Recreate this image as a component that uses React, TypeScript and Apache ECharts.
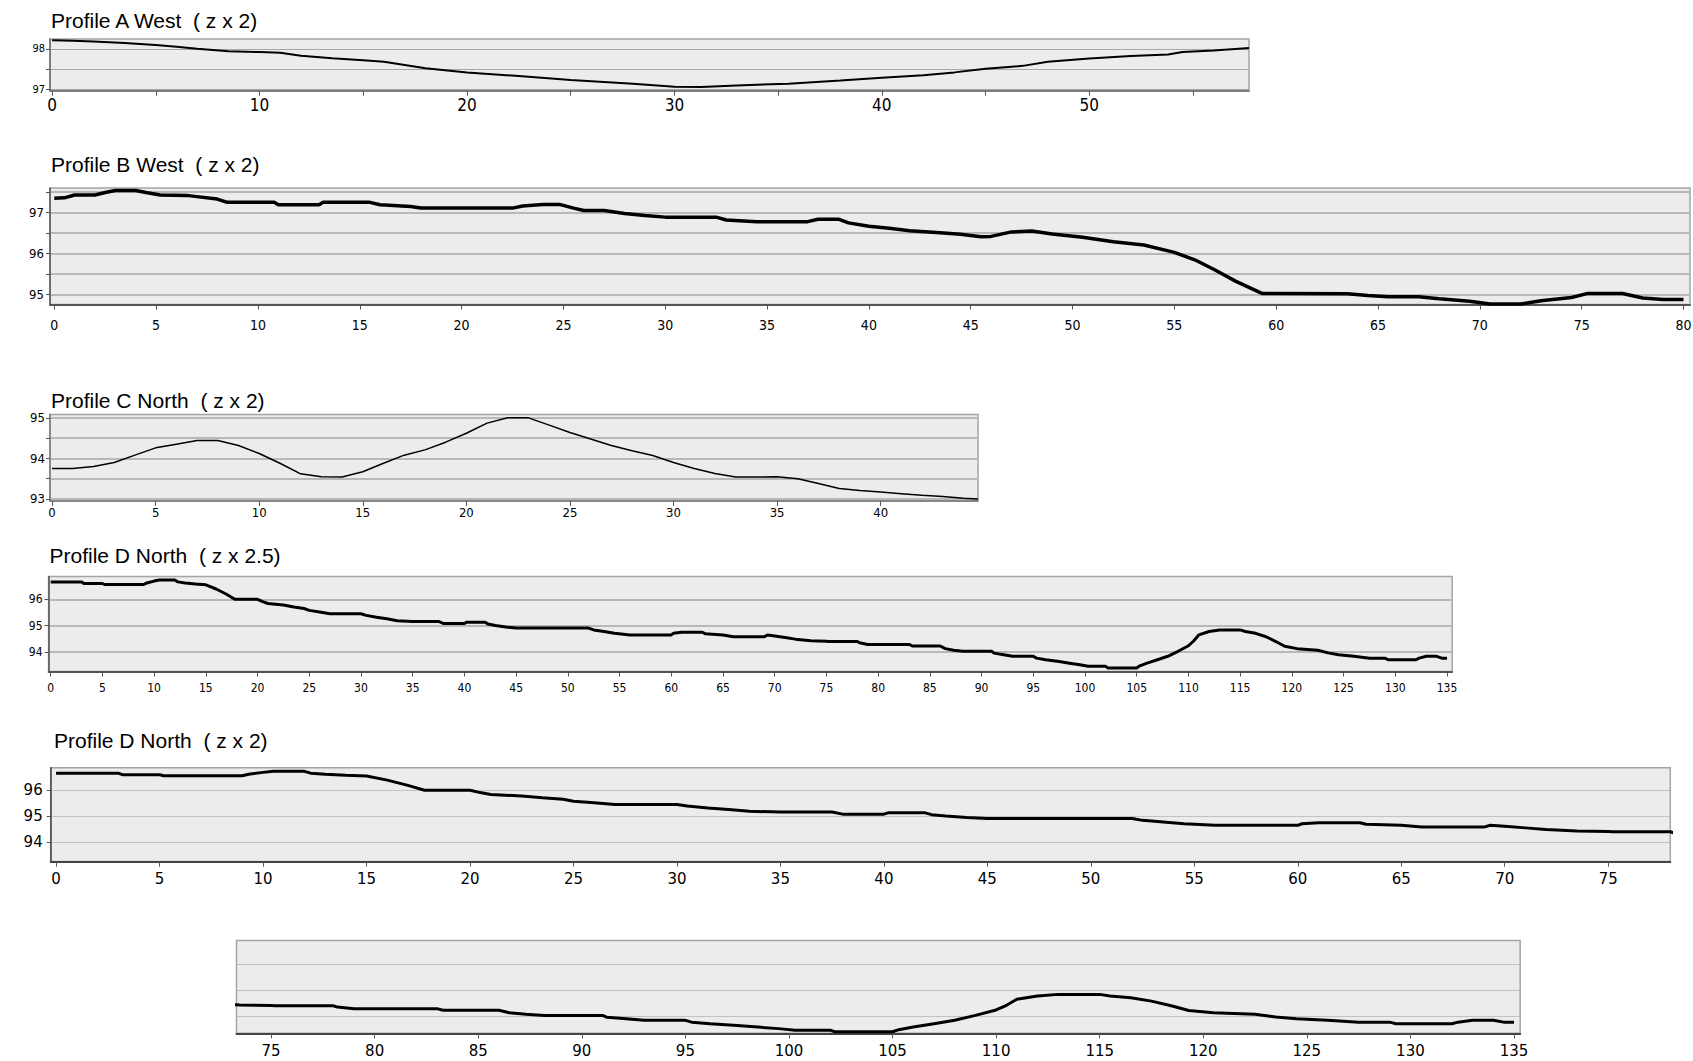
import React, { useEffect, useRef } from "react";
import * as echarts from "echarts";

// ---------- Profile A West ----------
const aX = [0, 1, 2, 3.5, 5, 6, 7, 8.5, 10, 11, 12, 13.5, 15, 16, 17, 18, 20, 22.5, 25, 28, 30, 31.3, 33, 35.5, 38, 40, 42, 43.5, 45, 46.8, 48, 50, 52, 53.8, 54.5, 56, 57.7];
const aY = [98.21, 98.2, 98.18, 98.14, 98.09, 98.05, 98.0, 97.94, 97.92, 97.9, 97.83, 97.77, 97.72, 97.68, 97.6, 97.52, 97.42, 97.33, 97.23, 97.14, 97.07, 97.06, 97.1, 97.14, 97.22, 97.29, 97.35, 97.42, 97.51, 97.58, 97.68, 97.76, 97.82, 97.86, 97.92, 97.96, 98.02];
const aXTicks = [0, 5, 10, 15, 20, 25, 30, 35, 40, 45, 50, 55];
const aXLabels = [0, 10, 20, 30, 40, 50];
const aYTicks = [97, 97.5, 98];
const aYLabels = [97, 98];

// ---------- Profile B West ----------
const bX = [0, 0.5, 1, 2, 2.5, 3, 4, 4.5, 5.2, 6.5, 7, 8, 8.5, 10.8, 11, 13, 13.2, 15.5, 16, 17.5, 18, 22.5, 23, 24, 24.8, 25.5, 26, 27, 28, 29, 30, 32.5, 33, 34.5, 37, 37.5, 38.5, 39, 40, 41, 42, 43.5, 44.5, 45.5, 46, 47, 48, 49, 50.5, 52, 53.5, 55, 56, 57, 58, 59.3, 63.5, 64.5, 65.5, 67, 68, 69.5, 70.5, 72, 73, 74.5, 75.3, 77, 78, 79, 80];
const bY = [97.35, 97.36, 97.43, 97.43, 97.49, 97.54, 97.54, 97.49, 97.43, 97.42, 97.39, 97.33, 97.25, 97.25, 97.19, 97.19, 97.25, 97.25, 97.19, 97.15, 97.11, 97.11, 97.16, 97.2, 97.2, 97.11, 97.05, 97.05, 96.98, 96.93, 96.89, 96.89, 96.82, 96.78, 96.78, 96.84, 96.84, 96.75, 96.67, 96.62, 96.56, 96.51, 96.47, 96.41, 96.42, 96.53, 96.55, 96.48, 96.4, 96.29, 96.21, 96.03, 95.85, 95.6, 95.33, 95.03, 95.02, 94.98, 94.95, 94.95, 94.9, 94.84, 94.77, 94.77, 94.85, 94.93, 95.03, 95.03, 94.92, 94.88, 94.88];
const bXTicks = [0, 5, 10, 15, 20, 25, 30, 35, 40, 45, 50, 55, 60, 65, 70, 75, 80];
const bYTicks = [95, 95.5, 96, 96.5, 97, 97.5];
const bYLabels = [95, 96, 97];

// ---------- Profile C North ----------
const cX = [0, 1, 2, 3, 4, 5, 6, 7, 8, 9, 10, 11, 12, 13, 14, 15, 16, 17, 18, 19, 20, 21, 22, 23, 24, 25, 26, 27, 28, 29, 30, 31, 32, 33, 34, 35, 36, 37, 38, 39, 40, 41, 42, 43, 44, 44.7];
const cY = [93.75, 93.75, 93.8, 93.9, 94.08, 94.26, 94.35, 94.44, 94.44, 94.32, 94.12, 93.88, 93.62, 93.55, 93.54, 93.67, 93.88, 94.08, 94.21, 94.4, 94.62, 94.87, 95.0, 95.0, 94.82, 94.64, 94.48, 94.32, 94.19, 94.07, 93.9, 93.75, 93.63, 93.54, 93.54, 93.55, 93.5, 93.38, 93.26, 93.21, 93.17, 93.13, 93.09, 93.06, 93.02, 93.0];
const cXTicks = [0, 5, 10, 15, 20, 25, 30, 35, 40];
const cYTicks = [93, 93.5, 94, 94.5, 95];
const cYLabels = [93, 94, 95];

// ---------- Profile D North (shared by the three D panels) ----------
const dX = [0, 3, 3.2, 5, 5.2, 9, 9.3, 10, 10.5, 12, 12.3, 13, 14, 15, 16, 17, 17.8, 20, 20.5, 21, 22.5, 23.5, 24.5, 25, 26, 27, 30, 30.5, 31.5, 32.5, 33.5, 35, 37.5, 38, 40, 40.2, 42, 42.3, 43, 44, 45, 52, 52.5, 53.5, 54.5, 56, 60, 60.2, 61, 63, 63.3, 65, 66, 69, 69.3, 70, 71, 72, 73.5, 75, 75.2, 78, 78.2, 79, 83, 83.3, 86, 86.5, 87.3, 88.2, 91, 91.2, 92, 93, 95, 95.3, 96.2, 97.5, 98.5, 99.5, 100.3, 102, 102.2, 105, 105.3, 106, 107, 108, 109, 110, 110.5, 111, 112, 113, 115, 115.5, 116.5, 117.5, 118.5, 119.3, 120.5, 122.5, 123.5, 124.5, 126, 127.5, 129, 129.3, 132, 132.3, 133, 134, 134.5, 135];
const dY = [96.66, 96.66, 96.6, 96.6, 96.56, 96.56, 96.62, 96.69, 96.73, 96.73, 96.66, 96.62, 96.58, 96.55, 96.39, 96.19, 96.0, 96.0, 95.91, 95.84, 95.78, 95.71, 95.65, 95.58, 95.52, 95.45, 95.45, 95.39, 95.32, 95.26, 95.19, 95.16, 95.16, 95.08, 95.08, 95.13, 95.13, 95.06, 95.01, 94.95, 94.91, 94.91, 94.84, 94.78, 94.71, 94.65, 94.65, 94.71, 94.75, 94.75, 94.69, 94.65, 94.58, 94.58, 94.65, 94.61, 94.55, 94.49, 94.43, 94.41, 94.4, 94.4, 94.35, 94.29, 94.29, 94.23, 94.23, 94.13, 94.07, 94.03, 94.03, 93.96, 93.91, 93.84, 93.84, 93.77, 93.71, 93.64, 93.58, 93.52, 93.46, 93.46, 93.4, 93.4, 93.48, 93.58, 93.71, 93.84, 94.03, 94.24, 94.42, 94.65, 94.78, 94.84, 94.84, 94.78, 94.71, 94.58, 94.39, 94.22, 94.13, 94.07, 93.97, 93.9, 93.84, 93.77, 93.77, 93.71, 93.71, 93.77, 93.84, 93.84, 93.77, 93.77];
const dXTicks = [0, 5, 10, 15, 20, 25, 30, 35, 40, 45, 50, 55, 60, 65, 70, 75, 80, 85, 90, 95, 100, 105, 110, 115, 120, 125, 130, 135];
const eXTicks = [0, 5, 10, 15, 20, 25, 30, 35, 40, 45, 50, 55, 60, 65, 70, 75];
const fXTicks = [75, 80, 85, 90, 95, 100, 105, 110, 115, 120, 125, 130, 135];
const dYTicks = [94, 95, 96];

const titles = [
  "Profile A West\u00a0\u00a0( z x 2)",
  "Profile B West\u00a0\u00a0( z x 2)",
  "Profile C North\u00a0\u00a0( z x 2)",
  "Profile D North\u00a0\u00a0( z x 2.5)",
  "Profile D North\u00a0\u00a0( z x 2)",
];

const zip = (xs: number[], ys: number[]) => xs.map((x, i) => [x, ys[i]]);

const NARROW = "'Liberation Sans Narrow', 'DejaVu Sans Condensed', 'Liberation Sans', Arial, sans-serif";
const SANS = "'Liberation Sans', Arial, sans-serif";
const WIDE = "'DejaVu Sans', 'Liberation Sans', sans-serif";

type Panel = {
  box: [number, number, number, number];
  xr: [number, number];
  yr: [number, number];
  xTicks: number[];
  xLabels: number[];
  yTicks: number[];
  yLabels: number[];
  xs: number[];
  ys: number[];
  lw: number;
  xFont: [number, string, number];
  yFont: [number, string, number];
  grid: { color: string; width: number; type: string };
  axisColor: string;
  axisWidth: number;
  showY: boolean;
};

const panels: Panel[] = [
  {
    box: [50, 39, 1249, 90.7], xr: [-0.1, 57.7], yr: [96.97, 98.24],
    xTicks: aXTicks, xLabels: aXLabels, yTicks: aYTicks, yLabels: aYLabels,
    xs: aX, ys: aY, lw: 2, xFont: [17, NARROW, 6], yFont: [11, NARROW, 5],
    grid: { color: "#a8a8a8", width: 1, type: "solid" }, axisColor: "#6a6a6a", axisWidth: 1.5, showY: true,
  },
  {
    box: [50, 188, 1690, 304.5], xr: [-0.21, 80.32], yr: [94.76, 97.6],
    xTicks: bXTicks, xLabels: bXTicks, yTicks: bYTicks, yLabels: bYLabels,
    xs: bX, ys: bY, lw: 3.5, xFont: [14, NARROW, 13], yFont: [13, NARROW, 6],
    grid: { color: "#b8b8b8", width: 2, type: "solid" }, axisColor: "#555", axisWidth: 2, showY: true,
  },
  {
    box: [50, 414.6, 978, 501], xr: [-0.1, 44.7], yr: [92.95, 95.08],
    xTicks: cXTicks, xLabels: cXTicks, yTicks: cYTicks, yLabels: cYLabels,
    xs: cX, ys: cY, lw: 1.5, xFont: [13, NARROW, 5], yFont: [13, NARROW, 5],
    grid: { color: "#b8b8b8", width: 2, type: "solid" }, axisColor: "#777", axisWidth: 1.5, showY: true,
  },
  {
    box: [48.6, 576.6, 1452.2, 671.6], xr: [-0.2, 135.5], yr: [93.26, 96.86],
    xTicks: dXTicks, xLabels: dXTicks, yTicks: dYTicks, yLabels: dYTicks,
    xs: dX, ys: dY, lw: 3, xFont: [12, NARROW, 10], yFont: [12, NARROW, 6],
    grid: { color: "#b8b8b8", width: 2, type: "solid" }, axisColor: "#555", axisWidth: 2, showY: true,
  },
  {
    box: [50.7, 767.7, 1670.3, 861.6], xr: [-0.26, 78.0], yr: [93.25, 96.87],
    xTicks: eXTicks, xLabels: eXTicks, yTicks: dYTicks, yLabels: dYTicks,
    xs: dX, ys: dY, lw: 3, xFont: [15, WIDE, 10], yFont: [15, WIDE, 8],
    grid: { color: "#999", width: 1, type: "dotted" }, axisColor: "#444", axisWidth: 2, showY: true,
  },
  {
    box: [236.5, 940.4, 1520.2, 1033.3], xr: [73.33, 135.3], yr: [93.34, 96.92],
    xTicks: fXTicks, xLabels: fXTicks, yTicks: dYTicks, yLabels: [],
    xs: dX, ys: dY, lw: 3, xFont: [15, WIDE, 10], yFont: [15, WIDE, 8],
    grid: { color: "#999", width: 1, type: "dotted" }, axisColor: "#444", axisWidth: 2, showY: false,
  },
];

const titlePos: [number, number][] = [
  [51, 10],
  [51, 153.6],
  [51, 390],
  [49.5, 544.5],
  [54, 730.2],
];

export default function App() {
  const ref = useRef<HTMLDivElement>(null);
  useEffect(() => {
    if (!ref.current) return;
    const chart = echarts.init(ref.current, undefined, { renderer: "svg" });
    const option: any = {
      animation: false,
      backgroundColor: "#ffffff",
      title: titles.map((t, i) => ({
        text: t,
        left: titlePos[i][0],
        top: titlePos[i][1],
        padding: 0,
        textStyle: { fontSize: 21, fontWeight: "normal", color: "#000", fontFamily: SANS },
      })),
      grid: panels.map((p) => ({
        left: p.box[0],
        top: p.box[1],
        width: p.box[2] - p.box[0],
        height: p.box[3] - p.box[1],
        show: true,
        backgroundColor: "#ececec",
        borderColor: "#a4a4a4",
        borderWidth: 1.5,
        containLabel: false,
        outerBoundsMode: "none",
      })),
      xAxis: panels.map((p, i) => ({
        type: "value",
        gridIndex: i,
        min: p.xr[0],
        max: p.xr[1],
        axisLine: { show: true, onZero: false, lineStyle: { color: p.axisColor, width: p.axisWidth } },
        axisTick: { show: true, length: 5, customValues: p.xTicks, lineStyle: { color: "#555", width: 1 } },
        axisLabel: {
          customValues: p.xLabels,
          fontSize: p.xFont[0],
          fontFamily: p.xFont[1],
          margin: p.xFont[2],
          color: "#000",
        },
        splitLine: { show: false },
      })),
      yAxis: panels.map((p, i) => ({
        type: "value",
        gridIndex: i,
        min: p.yr[0],
        max: p.yr[1],
        axisLine: { show: true, onZero: false, lineStyle: { color: p.showY ? p.axisColor : "#a4a4a4", width: p.showY ? 1.5 : 1 } },
        axisTick: { show: p.showY, length: 4, customValues: p.yTicks, lineStyle: { color: "#555", width: 1 } },
        axisLabel: {
          show: p.showY,
          customValues: p.yLabels.length ? p.yLabels : p.yTicks,
          fontSize: p.yFont[0],
          fontFamily: p.yFont[1],
          margin: p.yFont[2],
          color: "#000",
        },
        splitLine: { show: true, lineStyle: { color: p.grid.color, width: p.grid.width, type: p.grid.type } },
      })),
      series: panels.map((p, i) => ({
        type: "line",
        xAxisIndex: i,
        yAxisIndex: i,
        data: zip(p.xs, p.ys),
        showSymbol: false,
        symbol: "none",
        clip: true,
        lineStyle: { color: "#000", width: p.lw },
        z: 3,
      })),
    };
    chart.setOption(option);
    return () => chart.dispose();
  }, []);
  return (
    <div
      ref={ref}
      style={{ position: "absolute", left: 0, top: 0, width: 1693, height: 1061 }}
    />
  );
}
